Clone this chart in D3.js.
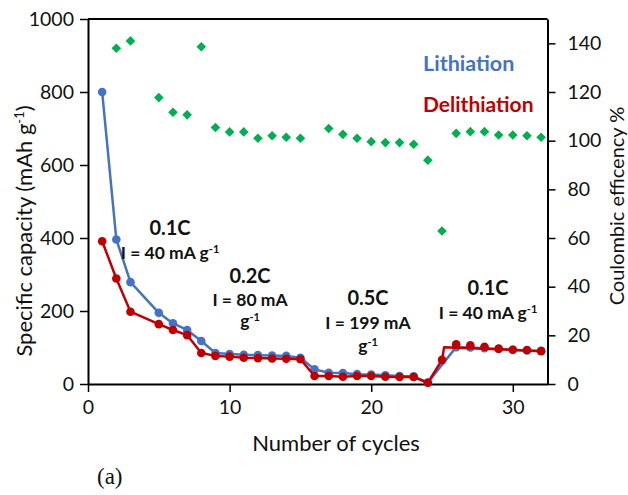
<!DOCTYPE html>
<html>
<head>
<meta charset="utf-8">
<script src="https://cdn.jsdelivr.net/npm/d3@7/dist/d3.min.js"></script>
<style>
  html, body { margin: 0; padding: 0; background: #fff; }
  svg { display: block; }
  text { font-family: Lato, "Open Sans", sans-serif; }
</style>
</head>
<body>
<svg id="chart" width="628" height="495"></svg>
<script>
// Cycle numbers at which capacity was recorded
const cycles = [1, 2, 3, 5, 6, 7, 8, 9, 10, 11, 12, 13, 14, 15, 16, 17, 18, 19, 20, 21, 22, 23, 24, 25, 26, 27, 28, 29, 30, 31, 32];

// Lithiation capacity (mAh g-1); null where no point was recorded
const lithiation = [800, 396, 279, 195, 166, 148, 118, 85, 82, 80, 79, 78, 77, 72, 40, 31, 30, 27, 26, 24, 22, 21, 4, null, 101, 100, 98, 96, 94, 92, 91];

// Delithiation capacity (mAh g-1)
const delithiation = [391, 289, 198, 164, 148, 134, 85, 77, 75, 72, 71, 70, 69, 68, 22, 22, 20, 22, 22, 20, 19, 19, 3.5, 66, 109, 106, 102, 97, 94, 93, 90];

// Delithiation line segment after the return to 0.1C
const delithTailCycles = [25.15, 32];
const delithTailValues = [101, 90];

// Coulombic efficiency (%)
const ceCycles = [2, 3, 5, 6, 7, 8, 9, 10, 11, 12, 13, 14, 15, 17, 18, 19, 20, 21, 22, 23, 24, 25, 26, 27, 28, 29, 30, 31, 32];
const ceValues = [138, 141, 117.7, 111.7, 110.6, 138.6, 105.4, 103.6, 103.6, 101, 102, 101.4, 101, 105, 102.6, 101, 99.6, 99.2, 99.2, 98.5, 92, 62.9, 103, 103.7, 103.7, 102.3, 102.3, 102, 101.4];

// Axis ticks
const xTicks = [0, 10, 20, 30];
const yTicks = [0, 200, 400, 600, 800, 1000];
const y2Ticks = [0, 20, 40, 60, 80, 100, 120, 140];

const colors = { lith: "#4472C4", delith: "#C00000", ce: "#00B050", ink: "#111" };

const svg = d3.select("#chart");
const plot = { left: 88, right: 547.5, top: 19, bottom: 384 };

const x = d3.scaleLinear().domain([0, 32.45]).range([plot.left, plot.right]);
const y = d3.scaleLinear().domain([0, 1000]).range([plot.bottom, plot.top]);
const y2 = d3.scaleLinear().domain([0, 150]).range([plot.bottom, plot.top]);

// Frame: top border
svg.append("line")
  .attr("x1", plot.left).attr("x2", plot.right)
  .attr("y1", plot.top).attr("y2", plot.top)
  .attr("stroke", "#000").attr("stroke-width", 2);

// Axes
function styleAxis(g) {
  g.selectAll("path.domain").attr("stroke", "#000").attr("stroke-width", 2);
  g.selectAll(".tick line").attr("stroke", "#000").attr("stroke-width", 1.5);
  g.selectAll(".tick text").style("font-size", "19.5px").style("fill", colors.ink);
}

svg.append("g")
  .attr("transform", `translate(0,${plot.bottom})`)
  .call(d3.axisBottom(x).tickValues(xTicks).tickFormat(d3.format("d")).tickSize(8).tickSizeOuter(0).tickPadding(8))
  .call(styleAxis);

svg.append("g")
  .attr("transform", `translate(${plot.left},0)`)
  .call(d3.axisLeft(y).tickValues(yTicks).tickFormat(d3.format("d")).tickSize(8).tickSizeOuter(0).tickPadding(6))
  .call(styleAxis);

svg.append("g")
  .attr("transform", `translate(${plot.right},0)`)
  .call(d3.axisRight(y2).tickValues(y2Ticks).tickFormat(d3.format("d")).tickSize(8).tickSizeOuter(0).tickPadding(12))
  .call(styleAxis);

// Axis titles
svg.append("text")
  .attr("x", 336).attr("y", 451)
  .attr("text-anchor", "middle").style("font-size", "22px").style("fill", colors.ink)
  .text("Number of cycles");

const yTitle = svg.append("text")
  .attr("transform", "translate(32,231) rotate(-90)")
  .attr("text-anchor", "middle").style("font-size", "22px").style("fill", colors.ink);
yTitle.append("tspan").text("Specific capacity (mAh g");
yTitle.append("tspan").attr("baseline-shift", "super").style("font-size", "13px").text("-1");
yTitle.append("tspan").text(")");

svg.append("text")
  .attr("transform", "translate(624,206) rotate(-90)")
  .attr("text-anchor", "middle").style("font-size", "20px").style("fill", colors.ink)
  .text("Coulombic efficency %");

svg.append("text")
  .attr("x", 97).attr("y", 484)
  .style("font-family", "'Liberation Serif', serif").style("font-size", "23px").style("fill", colors.ink)
  .text("(a)");

// Series data
const lithData = cycles.map((c, i) => ({ c, v: lithiation[i] })).filter(d => d.v != null);
const delithData = delithiation.map((v, i) => ({ c: cycles[i], v }));
const delithLineData = delithData.filter(d => d.c <= 25)
  .concat(delithTailCycles.map((c, i) => ({ c, v: delithTailValues[i] })));
const ceData = ceCycles.map((c, i) => ({ c, v: ceValues[i] }));

const line = d3.line().x(d => x(d.c)).y(d => y(d.v));

// Lithiation
svg.append("path").datum(lithData)
  .attr("d", line).attr("fill", "none")
  .attr("stroke", colors.lith).attr("stroke-width", 2.5).attr("stroke-linejoin", "round");
svg.append("g").selectAll("circle").data(lithData).join("circle")
  .attr("cx", d => x(d.c)).attr("cy", d => y(d.v)).attr("r", 4.3)
  .attr("fill", colors.lith);

// Delithiation
svg.append("path").datum(delithLineData)
  .attr("d", line).attr("fill", "none")
  .attr("stroke", colors.delith).attr("stroke-width", 2.5).attr("stroke-linejoin", "round");
svg.append("g").selectAll("circle").data(delithData).join("circle")
  .attr("cx", d => x(d.c)).attr("cy", d => y(d.v)).attr("r", 4.3)
  .attr("fill", colors.delith);

// Coulombic efficiency diamonds
svg.append("g").selectAll("path").data(ceData).join("path")
  .attr("transform", d => `translate(${x(d.c)},${y2(d.v)})`)
  .attr("d", "M0,-4.8L4.8,0L0,4.8L-4.8,0Z")
  .attr("fill", colors.ce);

// Legend labels
svg.append("text").attr("x", 423).attr("y", 71)
  .style("font-size", "21.5px").style("font-weight", "bold").style("fill", colors.lith)
  .text("Lithiation");
svg.append("text").attr("x", 423).attr("y", 112)
  .style("font-size", "21px").style("font-weight", "bold").style("fill", colors.delith)
  .text("Delithiation");

// Rate annotations
function rateLabel(cx, rate, rateY, lines) {
  svg.append("text").attr("x", cx).attr("y", rateY)
    .attr("text-anchor", "middle").style("font-size", "20px").style("font-weight", "bold").style("fill", colors.ink)
    .text(rate);
  lines.forEach(l => {
    const t = svg.append("text").attr("x", cx).attr("y", l.y)
      .attr("text-anchor", "middle").style("font-size", "17.5px").style("font-weight", "bold").style("fill", colors.ink);
    t.append("tspan").text(l.text);
    if (l.sup) t.append("tspan").attr("baseline-shift", "super").style("font-size", "11px").text(l.sup);
  });
}

rateLabel(170, "0.1C", 235, [{ text: "I = 40 mA g", sup: "-1", y: 259 }]);
rateLabel(250, "0.2C", 283, [{ text: "I = 80 mA", y: 306 }, { text: "g", sup: "-1", y: 327 }]);
rateLabel(368, "0.5C", 305, [{ text: "I = 199 mA", y: 329 }, { text: "g", sup: "-1", y: 352 }]);
rateLabel(488, "0.1C", 295, [{ text: "I = 40 mA g", sup: "-1", y: 319 }]);
</script>
</body>
</html>
